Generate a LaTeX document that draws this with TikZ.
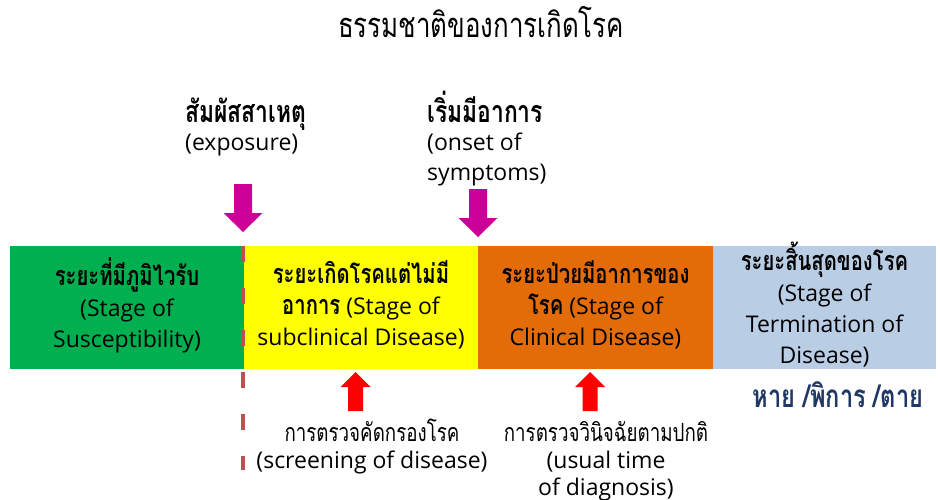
\documentclass[tikz,border=0pt]{standalone}
\usepackage{fontspec}
\setmainfont{Open Sans}
\newfontfamily\thaifont[Script=Thai,FakeStretch=0.75]{Loma}
\newcommand\thai[1]{{\thaifont #1}}
\newcommand\thaib[1]{{\thaifont\bfseries #1}}
\newcommand\fsz[2]{\fontsize{#1}{#2}\selectfont}
\newcommand\hd[1]{{\fsz{27}{31}\thaib{#1}}}
\definecolor{cgreen}{HTML}{00B050}
\definecolor{cyellow}{HTML}{FFFF00}
\definecolor{corange}{HTML}{E36C09}
\definecolor{cblue}{HTML}{B9CDE5}
\definecolor{cmag}{HTML}{CC0099}
\definecolor{cred}{HTML}{FF0000}
\definecolor{cdash}{HTML}{C0504D}
\definecolor{cnavy}{HTML}{203864}
\tikzset{
  stagebox/.style={rectangle, inner sep=0pt, minimum height=123pt},
  stagetext/.style={inner sep=0pt, align=center, font=\fsz{23}{31}, text=black, yshift=2.5pt},
  lbl/.style={inner sep=0pt, font=\fsz{23}{30}, text=black},
  toplbl/.style={inner sep=0pt, font=\fsz{23}{30}, text=black, anchor=base west},
  downarrow/.pic={\fill[cmag] (-9,0) -- (9,0) -- (9,29) -- (19.5,29) -- (0,48) -- (-19.5,29) -- (-9,29) -- cycle;},
  uparrow/.pic={\fill[cred] (-7.5,0) -- (7.5,0) -- (7.5,-24) -- (15,-24) -- (0,-39) -- (-15,-24) -- (-7.5,-24) -- cycle;},
}
\begin{document}
\begin{tikzpicture}[x=1pt,y=-1pt]
\useasboundingbox (0,0) rectangle (940,500);
% title
\node[lbl, font=\fsz{34.5}{30}] (title) at (481,22) {\thai{ธรรมชาติของการเกิดโรค}};
% stage boxes
\node[stagebox, fill=cgreen, minimum width=234pt] (s1) at (127,307.5) {};
\node[stagebox, fill=cyellow, minimum width=234pt] (s2) at (361,307.5) {};
\node[stagebox, fill=corange, minimum width=235pt] (s3) at (595.5,307.5) {};
\node[stagebox, fill=cblue, minimum width=223pt] (s4) at (824.5,307.5) {};
\node[stagetext] (t1) at (s1.center)
  {\hd{ระยะที่มีภูมิไวรับ}\\(Stage of\\Susceptibility)};
\node[stagetext] (t2) at (s2.center)
  {\hd{ระยะเกิดโรคแต่ไม่มี}\\\hd{อาการ} (Stage of\\subclinical Disease)};
\node[stagetext] (t3) at (s3.center)
  {\hd{ระยะป่วยมีอาการของ}\\\hd{โรค} (Stage of\\Clinical Disease)};
\node[stagetext] (t4) at (s4.center)
  {\hd{ระยะสิ้นสุดของโรค}\\(Stage of\\Termination of\\Disease)};
% dashed exposure line
\coordinate (dtop) at (243,246);
\coordinate (dbot) at (243,470);
\draw[cdash, line width=4pt, dash pattern=on 16pt off 26pt] (dtop) -- (dbot);
% top labels and arrows
\node[toplbl, font=\fsz{30.5}{30}] (exp1) at (185,122.5) {\thaib{สัมผัสสาเหตุ}};
\node[toplbl] (exp2) at (185,151) {(exposure)};
\node[toplbl, font=\fsz{30.5}{30}] (ons1) at (427,122.5) {\thaib{เริ่มมีอาการ}};
\node[toplbl] (ons2) at (427,151) {(onset of};
\node[toplbl] (ons3) at (427,180) {symptoms)};
\pic at (243,184) {downarrow};
\pic at (478,189) {downarrow};
% bottom arrows and labels
\pic at (355.5,411) {uparrow};
\pic at (590,411) {uparrow};
\node[lbl, align=center, font=\fsz{23}{27}] (scr) at (372,447)
  {{\fsz{25}{27}\thai{การตรวจคัดกรองโรค}}\\(screening of disease)};
\node[lbl, align=center, font=\fsz{23}{27}] (diag) at (606,461)
  {{\fsz{25}{27}\thai{การตรวจวินิจฉัยตามปกติ}}\\(usual time\\of diagnosis)};
\node[lbl, text=cnavy, font=\fsz{31.5}{30}] (outc) at (838,395) {\thaib{หาย /พิการ /ตาย}};
\end{tikzpicture}
\end{document}
